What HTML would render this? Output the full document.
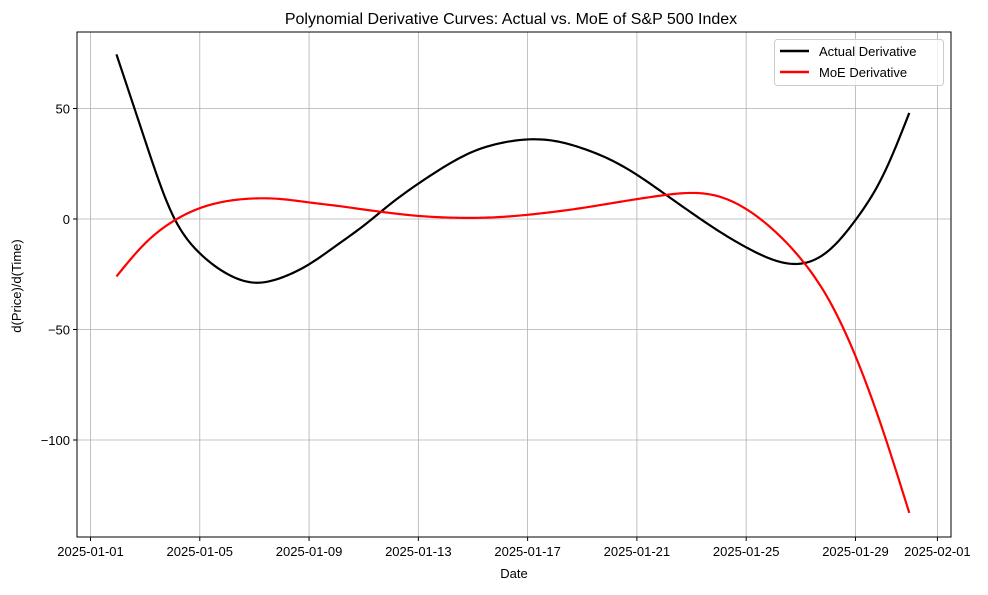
<!DOCTYPE html>
<html><head><meta charset="utf-8"><style>
body{margin:0;background:#fff;width:988px;height:590px;overflow:hidden}
text{font-family:"Liberation Sans","DejaVu Sans",sans-serif;fill:#000}
</style></head><body>
<svg id="chart" width="988" height="590">
<text x="511" y="24" font-size="16" text-anchor="middle">Polynomial Derivative Curves: Actual vs. MoE of S&amp;P 500 Index</text>
<g id="grid"></g><g id="series"></g><g id="axes"></g>
<text x="514" y="578" font-size="13" text-anchor="middle">Date</text>
<text transform="translate(21,286) rotate(-90)" font-size="13" text-anchor="middle">d(Price)/d(Time)</text>
<g>
<rect x="774.5" y="39.5" width="169" height="46" rx="3" fill="#fff" fill-opacity="0.8" stroke="#ccc"/>
<line x1="780" y1="51" x2="809" y2="51" stroke="#000" stroke-width="2.5"/>
<text x="819" y="56" font-size="13">Actual Derivative</text>
<line x1="780" y1="72" x2="809" y2="72" stroke="#f00" stroke-width="2.5"/>
<text x="819" y="77" font-size="13">MoE Derivative</text>
</g>
</svg>
<script>
const dayOffsets=[0.95,2,3,4,5,6,7,8,9,10,11,12,13,14,15,16,17,18,19,20,21,22,23,24,25,26,27,28,29,29.97];
const actualValues=[74.5,35.5,2,-15.5,-24.8,-28.8,-26.5,-20.5,-12,-3,7,16,24,30.5,34.3,36,35.3,32,27,20,11.5,2.8,-5.5,-12.8,-18.5,-20.2,-14.5,-0.5,19.5,48];
const moeValues=[-26,-11,-1.2,4.9,8.1,9.3,9,7.5,6,4.3,2.7,1.4,0.7,0.5,0.9,1.9,3.3,5,7,9,10.8,11.8,10.2,4.5,-5,-18,-36,-62,-95.5,-133];
const xTickDays=[0,4,8,12,16,20,24,28,31];
const xTickLabels=["2025-01-01","2025-01-05","2025-01-09","2025-01-13","2025-01-17","2025-01-21","2025-01-25","2025-01-29","2025-02-01"];
const yTicks=[-100,-50,0,50];
const yTickLabels=["\u2212100","\u221250","0","50"];
const L=77,R=951,T=32,B=537;
const xs=d=>90.5+d*27.32;
const ys=v=>219-v*2.21;
const ns="http://www.w3.org/2000/svg";
function mk(tag,attrs,parent){const e=document.createElementNS(ns,tag);for(const k in attrs)e.setAttribute(k,attrs[k]);parent.appendChild(e);return e;}
const grid=document.getElementById('grid'),axes=document.getElementById('axes'),series=document.getElementById('series');
xTickDays.forEach((d,i)=>{
 const x=xs(d);
 const g=mk('line',{x1:x,x2:x,y1:T,y2:B,stroke:'#b0b0b0','stroke-width':0.8},grid);
 
 
 mk('line',{x1:x,x2:x,y1:B,y2:B+4,stroke:'#000'},axes);
 const t=mk('text',{x:x,y:B+19,'font-size':13,'text-anchor':'middle'},axes);
 t.textContent=xTickLabels[i];
 
 
});
yTicks.forEach((v,i)=>{
 const y=ys(v);
 const g=mk('line',{x1:L,x2:R,y1:y,y2:y,stroke:'#b0b0b0','stroke-width':0.8},grid);
 
 
 mk('line',{x1:L-4,x2:L,y1:y,y2:y,stroke:'#000'},axes);
 const t=mk('text',{x:L-7,y:y+5,'font-size':13,'text-anchor':'end'},axes);
 t.textContent=yTickLabels[i];
 
 
});
const frame=mk('rect',{x:L,y:T,width:R-L,height:B-T,fill:'none',stroke:'#000','stroke-width':1},axes);


// natural cubic spline through data points
function pathFor(vals){
 const x=dayOffsets,y=vals,n=x.length;
 const h=[],al=[0],l=[1],mu=[0],z=[0],c=new Array(n).fill(0),b=[],dd=[];
 for(let i=0;i<n-1;i++)h.push(x[i+1]-x[i]);
 for(let i=1;i<n-1;i++)al.push(3/h[i]*(y[i+1]-y[i])-3/h[i-1]*(y[i]-y[i-1]));
 for(let i=1;i<n-1;i++){l[i]=2*(x[i+1]-x[i-1])-h[i-1]*mu[i-1];mu[i]=h[i]/l[i];z[i]=(al[i]-h[i-1]*z[i-1])/l[i];}
 l[n-1]=1;z[n-1]=0;
 for(let j=n-2;j>=0;j--){c[j]=z[j]-mu[j]*c[j+1];b[j]=(y[j+1]-y[j])/h[j]-h[j]*(c[j+1]+2*c[j])/3;dd[j]=(c[j+1]-c[j])/(3*h[j]);}
 let d='';
 for(let i=0;i<n-1;i++){
  for(let k=0;k<=10;k++){
   if(i>0&&k===0)continue;
   const t=h[i]*k/10;
   const v=y[i]+b[i]*t+c[i]*t*t+dd[i]*t*t*t;
   d+=(d?' L':'M')+xs(x[i]+t).toFixed(2)+','+ys(v).toFixed(2);
  }
 }
 return d;
}
const a=mk('path',{d:pathFor(actualValues),fill:'none',stroke:'#000','stroke-width':2.2,'stroke-linejoin':'round'},series);


const m=mk('path',{d:pathFor(moeValues),fill:'none',stroke:'#f00','stroke-width':2.2,'stroke-linejoin':'round'},series);


</script>
</body></html>
